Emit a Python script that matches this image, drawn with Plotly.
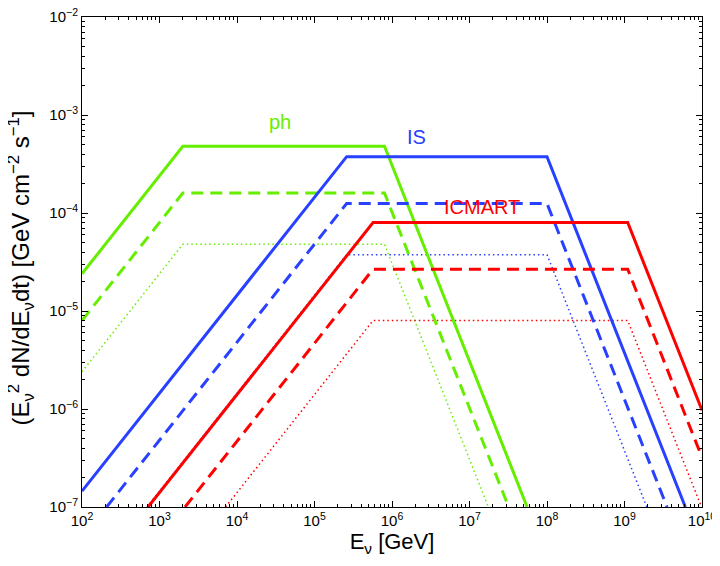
import plotly.graph_objects as go

# spectra vertices: E [GeV] and E^2 dN/dE [GeV cm^-2 s^-1]
ph_E = [1e2, 2e3, 8e5, 5.54e7]
ph_solid = [2.4e-5, 4.8e-4, 4.8e-4, 1e-7]
ph_E_dash = [1e2, 2e3, 8e5, 3.2e7]
ph_dash = [8e-6, 1.6e-4, 1.6e-4, 1e-7]
ph_E_dot = [1e2, 2e3, 8e5, 1.75e7]
ph_dot = [2.4e-6, 4.8e-5, 4.8e-5, 1e-7]

is_E = [1e2, 2.6e5, 1e8, 6.1e9]
is_solid = [1.45e-7, 3.76e-4, 3.76e-4, 1e-7]
is_E_dash = [208, 2.6e5, 1e8, 3.54e9]
is_dash = [1e-7, 1.25e-4, 1.25e-4, 1e-7]
is_E_dot = [691, 2.6e5, 1e8, 1.94e9]
is_dot = [1e-7, 3.76e-5, 3.76e-5, 1e-7]

ic_E = [712, 5.7e5, 1.1e9, 1e10]
ic_solid = [1e-7, 8e-5, 8e-5, 9.7e-7]
ic_E_dash = [2135, 5.7e5, 1.1e9, 1e10]
ic_dash = [1e-7, 2.67e-5, 2.67e-5, 3.2e-7]
ic_E_dot = [7125, 5.7e5, 1.1e9, 1e10]
ic_dot = [1e-7, 8e-6, 8e-6, 9.7e-8]

GREEN = "rgb(102,238,0)"
BLUE = "rgb(40,64,255)"
RED = "rgb(255,0,0)"

series = [
    (ph_E, ph_solid, GREEN, "solid", 3),
    (ph_E_dash, ph_dash, GREEN, "12px,7px", 3),
    (ph_E_dot, ph_dot, GREEN, "1.5px,3px", 1.5),
    (is_E, is_solid, BLUE, "solid", 3),
    (is_E_dash, is_dash, BLUE, "12px,7px", 3),
    (is_E_dot, is_dot, BLUE, "1.5px,3px", 1.5),
    (ic_E, ic_solid, RED, "solid", 3),
    (ic_E_dash, ic_dash, RED, "12px,7px", 3),
    (ic_E_dot, ic_dot, RED, "1.5px,3px", 1.5),
]

fig = go.Figure()
# draw dotted first, solid last
for xs, ys, col, dash, w in sorted(series, key=lambda s: s[4]):
    fig.add_trace(go.Scatter(x=xs, y=ys, mode="lines",
                             line=dict(color=col, dash=dash, width=w)))

labels = [("ph", 4.555, -3.07, GREEN), ("IS", 6.32, -3.22, BLUE),
          ("ICMART", 7.16, -3.94, RED)]
for txt, lx, ly, col in labels:
    fig.add_annotation(x=lx, y=ly, text=txt, showarrow=False,
                       font=dict(size=20, color=col))

# y title as annotation (sits a bit below the axis centre in the original)
fig.add_annotation(xref="paper", yref="paper", x=-0.098, y=0.487,
                   text="(E<sub>ν</sub><sup>2</sup> dN/dE<sub>ν</sub>dt) [GeV cm<sup>−2</sup> s<sup>−1</sup>]",
                   textangle=-90, showarrow=False, xanchor="center", yanchor="middle",
                   font=dict(size=24, color="black"))

xt = [10**k for k in range(2, 11)]
yt = [10**k for k in range(-7, -1)]

axis_common = dict(type="log", showline=True, linecolor="black", linewidth=1,
                   mirror="allticks", ticks="inside", ticklen=6, tickcolor="black",
                   showgrid=False, zeroline=False, automargin=False,
                   ticklabeloverflow="allow",
                   minor=dict(ticks="inside", ticklen=3, tickcolor="black",
                              dtick="D1", showgrid=False),
                   tickfont=dict(size=15, color="black"))

fig.update_xaxes(range=[2, 10], tickvals=xt,
                 ticktext=["10<sup>%d</sup>" % k for k in range(2, 11)],
                 title=dict(text="E<sub>ν</sub> [GeV]", font=dict(size=22, color="black"),
                            standoff=4),
                 **axis_common)
fig.update_yaxes(range=[-7, -2], tickvals=yt,
                 ticktext=["10<sup>−%d</sup>" % -k for k in range(-7, -1)],
                 **axis_common)

# page body has an 8px margin, so the figure is a bit smaller than the window
fig.update_layout(width=712, height=558, showlegend=False,
                  plot_bgcolor="white", paper_bgcolor="white",
                  font=dict(family="Liberation Sans, Arial, sans-serif"),
                  margin=dict(l=74, r=18, t=9, b=59))

fig.write_html("out.html")
